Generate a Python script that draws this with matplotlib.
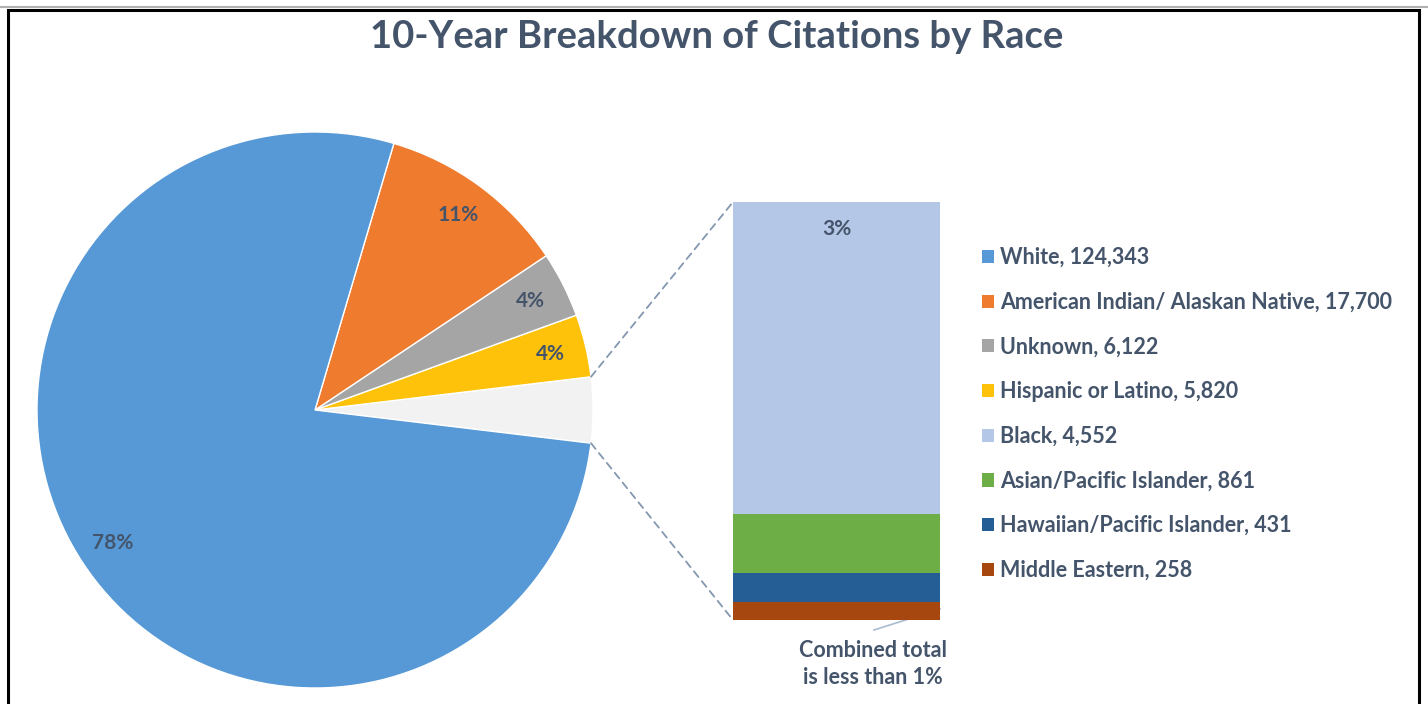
import matplotlib
matplotlib.use("Agg")
import matplotlib.pyplot as plt
from matplotlib.patches import Patch, Rectangle, ConnectionPatch
import numpy as np

plt.rcParams['font.family'] = ['Lato', 'DejaVu Sans']

# ---- data ----
pie_labels = ["White", "American Indian/ Alaskan Native", "Unknown", "Hispanic or Latino"]
pie_values = [124343, 17700, 6122, 5820]
bar_labels = ["Black", "Asian/Pacific Islander", "Hawaiian/Pacific Islander", "Middle Eastern"]
bar_values = [4552, 861, 431, 258]

pie_colors = ["#5699d6", "#ef7b2f", "#a5a5a5", "#ffc20a"]
other_color = "#f2f2f2"
bar_colors = ["#b4c7e7", "#6eae47", "#255e95", "#a5470f"]
text_color = "#44546a"

other_total = sum(bar_values)
grand_total = sum(pie_values) + other_total

W, H = 1428, 704
fig = plt.figure(figsize=(W / 100, H / 100), dpi=100)
ax = fig.add_axes([0, 0, 1, 1])

# pie: counterclockwise order other, Hispanic, Unknown, AI, White
vals = [other_total] + pie_values[::-1]
cols = [other_color] + pie_colors[::-1]
start = -(other_total / grand_total) * 360 / 2

cx, cy, R = 315, H - 410, 278
wedges, _ = ax.pie(vals, colors=cols, startangle=start, counterclock=True,
                   center=(cx, cy), radius=R, frame=True,
                   wedgeprops=dict(edgecolor="white", linewidth=1.0))
ax.set_xlim(0, W)
ax.set_ylim(0, H)
ax.set_aspect('equal')
ax.axis('off')

# border
ax.plot([0, W], [H - 7, H - 7], color="#b0b0b0", lw=1.5)
ax.add_patch(Rectangle((7.5, -10), 1411, H - 9 + 10 - 0.5, fill=False, ec="black", lw=2.2))

# percentage labels
for w, v in zip(wedges[1:], vals[1:]):
    ang = np.deg2rad((w.theta1 + w.theta2) / 2)
    r = R * 0.87
    ax.text(cx + r * np.cos(ang), cy + r * np.sin(ang), f"{v / grand_total * 100:.0f}%",
            ha='center', va='center', fontsize=15, fontweight='bold', color=text_color)

# title
ax.text(717, H - 37, "10-Year Breakdown of Citations by Race", ha='center', va='center',
        fontsize=27.5, fontweight='bold', color=text_color)

# bar axes
bx0, bx1 = 733, 940
by0, by1 = 620, 202
bax = fig.add_axes([bx0 / W, (H - by0) / H, (bx1 - bx0) / W, (by0 - by1) / H])
bax.set_xlim(-0.5, 0.5)
bax.set_ylim(0, other_total)
bax.axis('off')
bottom = 0
for lab, v, c in zip(bar_labels[::-1], bar_values[::-1], bar_colors[::-1]):
    bax.bar(0, v, width=1.0, bottom=bottom, color=c, edgecolor='none')
    bottom += v
bax.text(0.5, 1 - 0.065, f"{bar_values[0] / grand_total * 100:.0f}%", transform=bax.transAxes,
         ha='center', va='center', fontsize=15, fontweight='bold', color=text_color)

# connector lines
ow = wedges[0]
for th, yb in [(ow.theta2, 1), (ow.theta1, 0)]:
    px = cx + R * np.cos(np.deg2rad(th))
    py = cy + R * np.sin(np.deg2rad(th))
    con = ConnectionPatch(xyA=(px, py), coordsA=ax.transData,
                          xyB=(0, yb), coordsB=bax.transAxes,
                          color="#8497b0", lw=1.3, linestyle=(0, (4, 3)))
    fig.add_artist(con)

# annotation
ax.plot([940, 874], [H - 609, H - 630], color="#a9bbd0", lw=1.2)
ax.text(873, H - 664, "Combined total\nis less than 1%", ha='center', va='center',
        fontsize=15.5, fontweight='bold', color=text_color, linespacing=1.3)

# legend
handles = [Patch(facecolor=c, edgecolor='none') for c in pie_colors + bar_colors]
labels = [f"{l}, {v:,}" for l, v in zip(pie_labels + bar_labels, pie_values + bar_values)]
leg = ax.legend(handles, labels, loc='upper left', bbox_to_anchor=(973 / W, (H - 238.5) / H),
                bbox_transform=fig.transFigure, frameon=False, prop=dict(size=15.5, weight='bold'),
                handlelength=0.57, handleheight=0.57, handletextpad=0.28, labelspacing=1.1,
                borderaxespad=0)
for t in leg.get_texts():
    t.set_color(text_color)

fig.savefig("out.png", dpi=100)
